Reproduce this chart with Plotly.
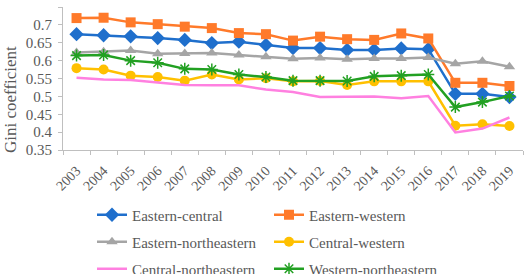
import plotly.graph_objects as go

years = [str(y) for y in range(2003, 2020)]
eastern_central = [0.674, 0.671, 0.668, 0.663, 0.658, 0.649, 0.653, 0.644, 0.635, 0.635, 0.630, 0.630, 0.634, 0.632, 0.507, 0.507, 0.498]
eastern_western = [0.719, 0.720, 0.707, 0.702, 0.695, 0.691, 0.677, 0.674, 0.656, 0.667, 0.660, 0.658, 0.676, 0.662, 0.538, 0.538, 0.529]
eastern_northeastern = [0.623, 0.625, 0.628, 0.619, 0.620, 0.621, 0.616, 0.611, 0.605, 0.607, 0.604, 0.606, 0.606, 0.609, 0.591, 0.598, 0.583]
central_western = [0.579, 0.575, 0.558, 0.554, 0.544, 0.561, 0.547, 0.551, 0.542, 0.543, 0.532, 0.542, 0.542, 0.542, 0.418, 0.422, 0.417]
central_northeastern = [0.552, 0.547, 0.546, 0.538, 0.532, 0.531, 0.531, 0.519, 0.512, 0.498, 0.498, 0.500, 0.495, 0.501, 0.399, 0.410, 0.441]
western_northeastern = [0.614, 0.616, 0.600, 0.594, 0.577, 0.575, 0.561, 0.554, 0.544, 0.544, 0.543, 0.556, 0.558, 0.561, 0.470, 0.484, 0.501]
y_ticks = [0.35, 0.4, 0.45, 0.5, 0.55, 0.6, 0.65, 0.7, 0.75]
y_tick_text = ["0.35", "0.4", "0.45", "0.5", "0.55", "0.6", "0.65", "0.7", "0.75"]

series = [
    ("Eastern-central", eastern_central, "#1f6fcc", "diamond", "legend"),
    ("Eastern-western", eastern_western, "#ff7a2a", "square", "legend"),
    ("Eastern-northeastern", eastern_northeastern, "#a5a5a5", "triangle-up", "legend2"),
    ("Central-western", central_western, "#ffc000", "circle", "legend2"),
    ("Central-northeastern", central_northeastern, "#ff80e0", None, "legend3"),
    ("Western-northeastern", western_northeastern, "#22a022", "asterisk-open", "legend3"),
]

fig = go.Figure()
for name, vals, color, sym, lg in series:
    if sym is None:
        fig.add_trace(go.Scatter(x=years, y=vals, name=name, mode="lines",
                                 line=dict(color=color, width=2.5), legend=lg))
    elif sym == "asterisk-open":
        fig.add_trace(go.Scatter(x=years, y=vals, name=name, mode="lines+markers",
                                 line=dict(color=color, width=2.5),
                                 marker=dict(symbol=sym, size=10, color=color,
                                             line=dict(color=color, width=1.5)),
                                 legend=lg))
    else:
        fig.add_trace(go.Scatter(x=years, y=vals, name=name, mode="lines+markers",
                                 line=dict(color=color, width=2.5),
                                 marker=dict(symbol=sym, size=10 if sym != "diamond" else 11, color=color),
                                 legend=lg))

FAM = "Liberation Serif, Times New Roman, serif"
font = dict(family=FAM, size=15, color="#595959")
plot_top, plot_bottom = 7, 150
ph = plot_bottom - plot_top

def ly(row_y):
    return (plot_bottom - row_y) / ph

def px(x_px):
    return (x_px - 63) / 460

leg_common = dict(orientation="h", entrywidth=132, entrywidthmode="pixels",
                  x=px(92), xanchor="left", yanchor="middle",
                  font=dict(family=FAM, size=15, color="#595959"),
                  bgcolor="rgba(0,0,0,0)", itemwidth=30)

fig.update_layout(
    width=526, height=274,
    margin=dict(l=63, r=3, t=plot_top, b=274 - plot_bottom, autoexpand=False),
    paper_bgcolor="white", plot_bgcolor="white",
    font=font,
    showlegend=True,
    legend=dict(leg_common, y=ly(215)),
    legend2=dict(leg_common, y=ly(242)),
    legend3=dict(leg_common, y=ly(269)),
)
fig.add_annotation(text="Gini coefficient", textangle=-90, xref="paper", yref="paper",
                   x=px(10), y=ly(100), xanchor="center", yanchor="middle",
                   showarrow=False, font=dict(family=FAM, size=17, color="#595959"))
fig.update_xaxes(type="category", tickangle=-45, showline=True, linecolor="#bfbfbf",
                 linewidth=1, ticks="outside", ticklen=4, tickcolor="#bfbfbf",
                 tickson="boundaries", showgrid=False, tickfont=dict(size=14),
                 ticklabelstandoff=6, automargin=False,
                 range=[-0.5, 16.5])
fig.update_yaxes(range=[0.35, 0.75], tickvals=y_ticks, ticktext=y_tick_text, showline=True,
                 linecolor="#bfbfbf", linewidth=1, ticks="outside", ticklen=4,
                 tickcolor="#bfbfbf", showgrid=False, zeroline=False, automargin=False,
                 tickfont=dict(size=15), ticklabelstandoff=3)

fig.write_html("out.html", config={"displayModeBar": False},
               post_script="document.body.style.margin='0';")
